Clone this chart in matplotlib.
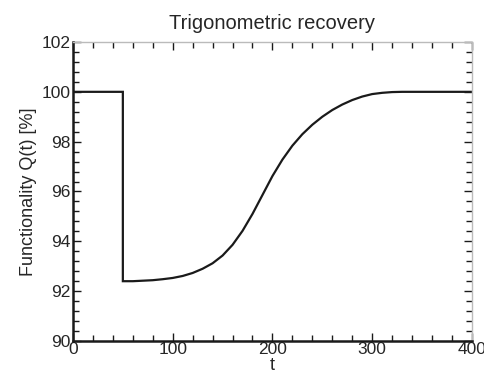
import matplotlib
matplotlib.use("Agg")
import matplotlib.pyplot as plt
from matplotlib.ticker import MultipleLocator

plt.rcParams['font.family'] = ['Liberation Sans', 'DejaVu Sans']

# Data
t_values = [0, 50, 50, 60, 70, 80, 90, 100, 110, 120, 130, 140, 150, 160, 170,
            180, 190, 200, 210, 220, 230, 240, 250, 260, 270, 280, 290, 300,
            310, 320, 330, 340, 400]
q_values = [100.0, 100.0, 92.40, 92.40, 92.42, 92.44, 92.48, 92.53, 92.61, 92.73,
            92.90, 93.12, 93.43, 93.86, 94.42, 95.10, 95.86, 96.62, 97.28, 97.84,
            98.30, 98.68, 99.00, 99.27, 99.49, 99.67, 99.81, 99.91, 99.96, 99.99,
            100.0, 100.0, 100.0]
x_ticks = [0, 100, 200, 300, 400]
y_ticks = [90, 92, 94, 96, 98, 100, 102]

fig = plt.figure(figsize=(4.84, 3.76), dpi=100)
ax = fig.add_axes([0.1508, 0.0931, 0.8242, 0.7952])

ax.plot(t_values, q_values, color='#1a1a1a', lw=1.6, solid_joinstyle='miter')

ax.set_xlim(0, 400)
ax.set_ylim(90, 102)
ax.set_xticks(x_ticks)
ax.set_yticks(y_ticks)
ax.xaxis.set_minor_locator(MultipleLocator(20))
ax.yaxis.set_minor_locator(MultipleLocator(0.4))

txt = '#262626'
ax.tick_params(which='both', direction='in', top=True, right=True,
               labelsize=12.5, labelcolor=txt, color='#1a1a1a', width=1.0)
ax.tick_params(which='major', length=6, pad=2)
ax.tick_params(which='minor', length=4)
ax.tick_params(axis='x', which='major', pad=1)

for side in ['left', 'bottom']:
    ax.spines[side].set_color('#1a1a1a')
    ax.spines[side].set_linewidth(1.8)
for side in ['top', 'right']:
    ax.spines[side].set_color('#bbbbbb')
    ax.spines[side].set_linewidth(1.0)

# light ticks on top/right
for tick in ax.xaxis.get_major_ticks() + ax.xaxis.get_minor_ticks():
    tick.tick2line.set_color('#b0b0b0')
for tick in ax.yaxis.get_major_ticks() + ax.yaxis.get_minor_ticks():
    tick.tick2line.set_color('#b0b0b0')

ax.set_title('Trigonometric recovery', fontsize=14.5, color=txt, pad=9)
ax.set_xlabel('t', fontsize=13, color=txt, labelpad=0)
ax.set_ylabel('Functionality Q(t) [%]', fontsize=13, color=txt, labelpad=3)

fig.savefig('out.png', dpi=100)
